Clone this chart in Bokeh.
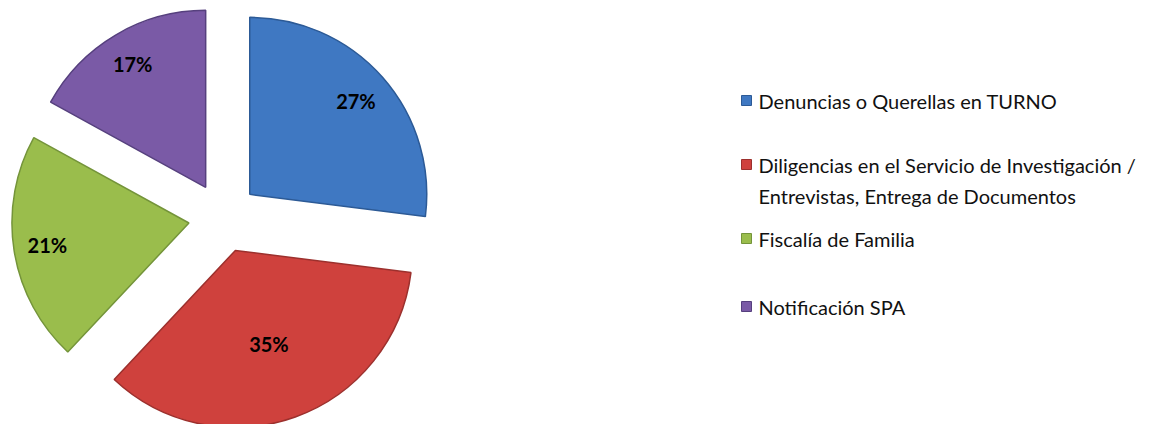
import math
import textwrap
from bokeh.plotting import figure
from bokeh.models import Range1d, ColumnDataSource
from bokeh.core.properties import value
from bokeh.embed import file_html
from bokeh.resources import INLINE

# ---- data ----
categories = [
    "Denuncias o Querellas en TURNO",
    "Diligencias en el Servicio de Investigación / Entrevistas, Entrega de Documentos",
    "Fiscalía de Familia",
    "Notificación SPA",
]
percent = [27, 35, 21, 17]
labels = [f"{v}%" for v in percent]

# ---- style / layout ----
colors = ["#3f78c2", "#cf413d", "#9abd4c", "#7a5aa6"]
edges = ["#2c5a96", "#9c302d", "#74943a", "#56407e"]
W, H = 1173, 424
cx, cy = 223, H - 217
R = 177
explode = 35
label_r = [0.80, 0.56, 0.81, 0.81]
legend_x = 746
legend_y = [100, 164, 238, 306]
line_h = 31

total = sum(percent)
starts, ends, xs, ys, lx, ly = [], [], [], [], [], []
acc = 0.0
for i, v in enumerate(percent):
    t0 = acc / total * 2 * math.pi
    acc += v
    t1 = acc / total * 2 * math.pi
    mid = (t0 + t1) / 2
    ox = cx + explode * math.sin(mid)
    oy = cy + explode * math.cos(mid)
    xs.append(ox)
    ys.append(oy)
    starts.append(math.pi / 2 - t0)
    ends.append(math.pi / 2 - t1)
    lx.append(ox + label_r[i] * R * math.sin(mid))
    ly.append(oy + label_r[i] * R * math.cos(mid))

p = figure(width=W, height=H, x_range=Range1d(0, W), y_range=Range1d(0, H),
           output_backend="svg", toolbar_location=None, min_border=0)
p.axis.visible = False
p.grid.visible = False
p.outline_line_color = None
p.background_fill_color = "white"

src = ColumnDataSource(dict(x=xs, y=ys, start=starts, end=ends, color=colors, edge=edges))
p.wedge(x="x", y="y", radius=R, start_angle="start", end_angle="end", direction="clock",
        fill_color="color", line_color="edge", line_width=1.5, source=src)

p.text(x=lx, y=ly, text=labels, text_font=value("Lato"), text_font_style="bold",
       text_font_size="20px", text_color="#000000", text_align="center", text_baseline="middle")

# legend
sq_x, sq_y, sq_c, sq_e = [], [], [], []
tx, ty, tt = [], [], []
for i, name in enumerate(categories):
    yy = H - legend_y[i]
    sq_x.append(legend_x)
    sq_y.append(yy)
    sq_c.append(colors[i])
    sq_e.append(edges[i])
    for j, line in enumerate(textwrap.wrap(name, 45)):
        tx.append(legend_x + 12)
        ty.append(yy - j * line_h)
        tt.append(line)

p.scatter(x=sq_x, y=sq_y, marker="square", size=10, fill_color=sq_c, line_color=sq_e, line_width=1)
p.text(x=tx, y=ty, text=tt, text_font=value("Lato"), text_font_size="20px",
       text_color="#111111", text_align="left", text_baseline="middle")

open("out.html", "w").write(file_html(p, INLINE))
